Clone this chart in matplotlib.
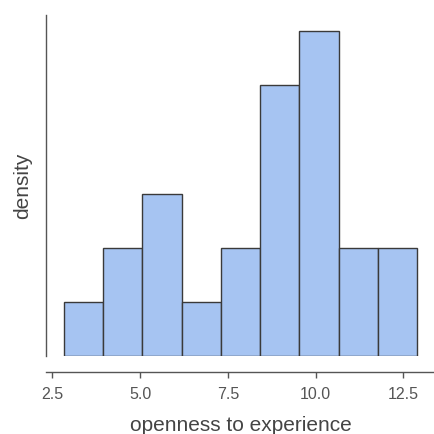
import numpy as np
import matplotlib.pyplot as plt

plt.rcParams['font.family'] = ['Liberation Sans', 'DejaVu Sans']

# histogram bins
bin_edges = [2.82, 3.94, 5.06, 6.18, 7.30, 8.42, 9.54, 10.66, 11.78, 12.90]
counts = [1, 2, 3, 1, 2, 5, 6, 2, 2]

edges = np.array(bin_edges)
widths = np.diff(edges)
density = np.array(counts) / (sum(counts) * widths)

fig = plt.figure(figsize=(4.35, 4.34), dpi=100)
ax = fig.add_axes([0.1057, 0.1797, 0.8943, 0.7857])

ax.bar(edges[:-1], density, width=widths, align='edge',
       color='#a6c4f2', edgecolor='#3a3a3a', linewidth=1.0)

ax.set_xticks([2.5, 5.0, 7.5, 10.0, 12.5])
ax.set_yticks([])
ax.tick_params(axis='x', colors='#555555', labelsize=11.5, length=4, width=1,
               labelcolor='#555555', pad=6.5)
ax.set_xlabel('openness to experience', fontsize=15, color='#444444', labelpad=10.5)
ax.set_ylabel('density', fontsize=15, color='#444444', labelpad=10)

for side in ['top', 'right']:
    ax.spines[side].set_visible(False)
ax.spines['bottom'].set_position(('outward', 11.5))
for side in ['left', 'bottom']:
    ax.spines[side].set_color('#555555')
    ax.spines[side].set_linewidth(1.0)

fig.savefig('out.png', dpi=100)
